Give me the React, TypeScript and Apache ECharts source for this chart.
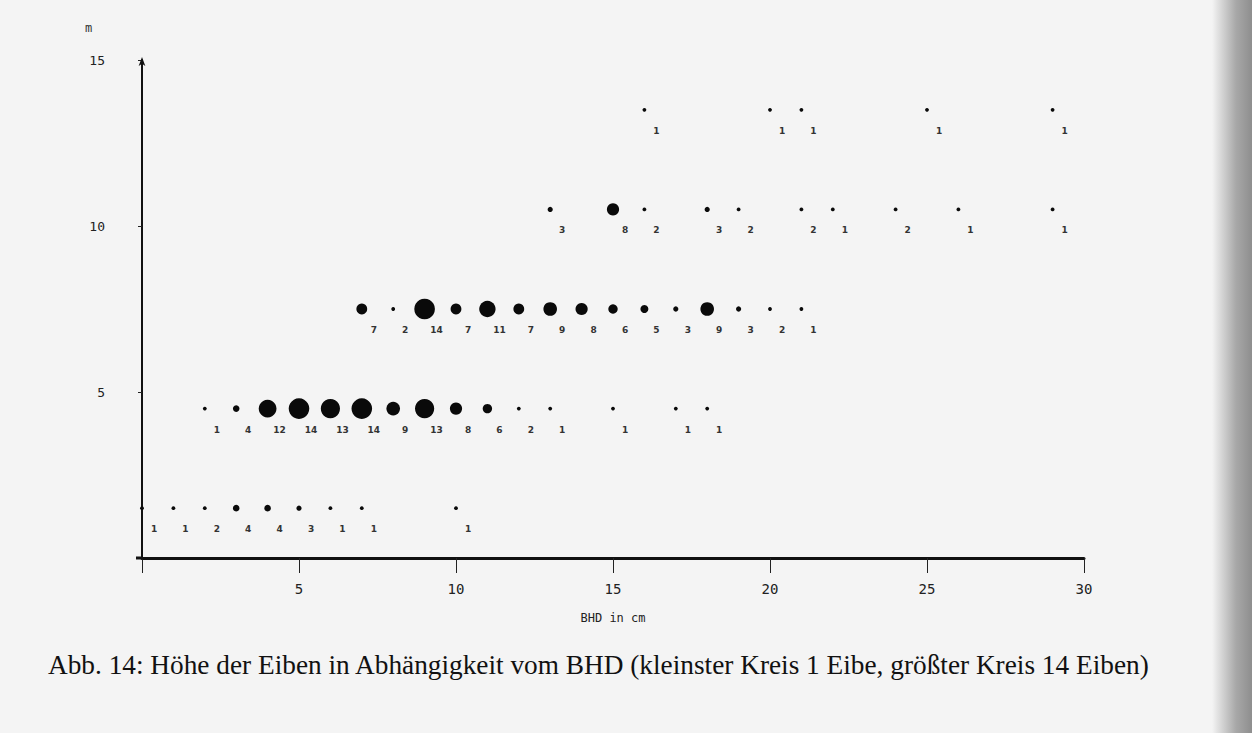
import React, { useEffect, useRef } from "react";
import * as echarts from "echarts";

// Height classes (m) and tree counts per BHD (cm)
const row1X = [0, 1, 2, 3, 4, 5, 6, 7, 10];
const row1N = [1, 1, 2, 4, 4, 3, 1, 1, 1];
const row2X = [2, 3, 4, 5, 6, 7, 8, 9, 10, 11, 12, 13, 15, 17, 18];
const row2N = [1, 4, 12, 14, 13, 14, 9, 13, 8, 6, 2, 1, 1, 1, 1];
const row3X = [7, 8, 9, 10, 11, 12, 13, 14, 15, 16, 17, 18, 19, 20, 21];
const row3N = [7, 2, 14, 7, 11, 7, 9, 8, 6, 5, 3, 9, 3, 2, 1];
const row4X = [13, 15, 16, 18, 19, 21, 22, 24, 26, 29];
const row4N = [3, 8, 2, 3, 2, 2, 1, 2, 1, 1];
const row5X = [16, 20, 21, 25, 29];
const row5N = [1, 1, 1, 1, 1];
const heightClasses = [1.5, 4.5, 7.5, 10.5, 13.5];
const xTicks = [5, 10, 15, 20, 25, 30];
const yTicks = [5, 10, 15];

const caption =
  "Abb. 14: Höhe der Eiben in Abhängigkeit vom BHD (kleinster Kreis 1 Eibe, größter Kreis 14 Eiben)";

const rows = [
  [row1X, row1N],
  [row2X, row2N],
  [row3X, row3N],
  [row4X, row4N],
  [row5X, row5N],
];

export default function App() {
  const ref = useRef<HTMLDivElement>(null);
  useEffect(() => {
    if (!ref.current) return;
    const chart = echarts.init(ref.current, null, { renderer: "svg" });
    const data: number[][] = [];
    rows.forEach(([xs, ns], i) => {
      (xs as number[]).forEach((x, j) => data.push([x, heightClasses[i], (ns as number[])[j]]));
    });

    chart.setOption({
      animation: false,
      backgroundColor: "#f4f4f4",
      grid: { left: 142, right: 168, top: 60, bottom: 175 },
      xAxis: {
        type: "value",
        min: 0,
        max: 30,
        interval: 5,
        name: "BHD in cm",
        nameLocation: "middle",
        nameGap: 54,
        nameTextStyle: { fontFamily: "DejaVu Sans Mono", fontSize: 12, color: "#222" },
        axisLine: { lineStyle: { color: "#111", width: 3 } },
        axisTick: { show: true, length: 15, lineStyle: { color: "#222", width: 1 } },
        axisLabel: {
          margin: 24,
          fontFamily: "DejaVu Sans Mono",
          fontSize: 14,
          color: "#222",
          formatter: (v: number) => (xTicks.includes(v) ? String(v) : ""),
        },
        splitLine: { show: false },
      },
      yAxis: {
        type: "value",
        min: 0,
        max: 15,
        interval: 5,
        offset: 5,
        axisLine: {
          show: true,
          symbol: ["none", "arrow"],
          symbolSize: [5, 9],
          symbolOffset: [0, 3],
          lineStyle: { color: "#111", width: 2 },
        },
        axisTick: { show: true, length: 4, lineStyle: { color: "#222" } },
        axisLabel: {
          margin: 32,
          fontFamily: "DejaVu Sans Mono",
          fontSize: 13,
          color: "#222",
          formatter: (v: number) => (yTicks.includes(v) ? String(v) : ""),
        },
        splitLine: { show: false },
      },
      graphic: [
        {
          type: "rect",
          z: 0,
          silent: true,
          shape: { x: 1212, y: 0, width: 40, height: 733 },
          style: {
            fill: new echarts.graphic.LinearGradient(0, 0, 1, 0, [
              { offset: 0, color: "#f4f4f4" },
              { offset: 0.6, color: "#a8a8a8" },
              { offset: 1, color: "#8e8e8e" },
            ]),
          },
        },
        {
          type: "line",
          z: 5,
          silent: true,
          shape: { x1: 136, y1: 558, x2: 143, y2: 558 },
          style: { stroke: "#111", lineWidth: 3 },
        },
        {
          type: "text",
          x: 85,
          y: 28,
          z: 5,
          style: { text: "m", font: '12px "DejaVu Sans Mono", monospace', fill: "#333", textVerticalAlign: "middle" },
        },
        {
          type: "text",
          x: 48,
          y: 665,
          z: 5,
          style: {
            text: caption,
            font: '27.3px "Liberation Serif", serif',
            fill: "#111",
            textVerticalAlign: "middle",
          },
        },
      ],
      series: [
        {
          type: "scatter",
          z: 3,
          data,
          symbol: "circle",
          symbolSize: (v: number[]) => Math.max(3.8, 1.4 * v[2] + 1),
          itemStyle: { color: "#0a0a0a", opacity: 1 },
          label: {
            show: true,
            position: "inside",
            offset: [12, 21],
            formatter: (p: any) => String(p.value[2]),
            fontFamily: "DejaVu Sans",
            fontSize: 9,
            fontWeight: "bold",
            color: "#333",
          },
        },
      ],
    });
    return () => chart.dispose();
  }, []);
  return (
    <div
      ref={ref}
      style={{ position: "fixed", left: 0, top: 0, width: 1252, height: 733 }}
    />
  );
}
